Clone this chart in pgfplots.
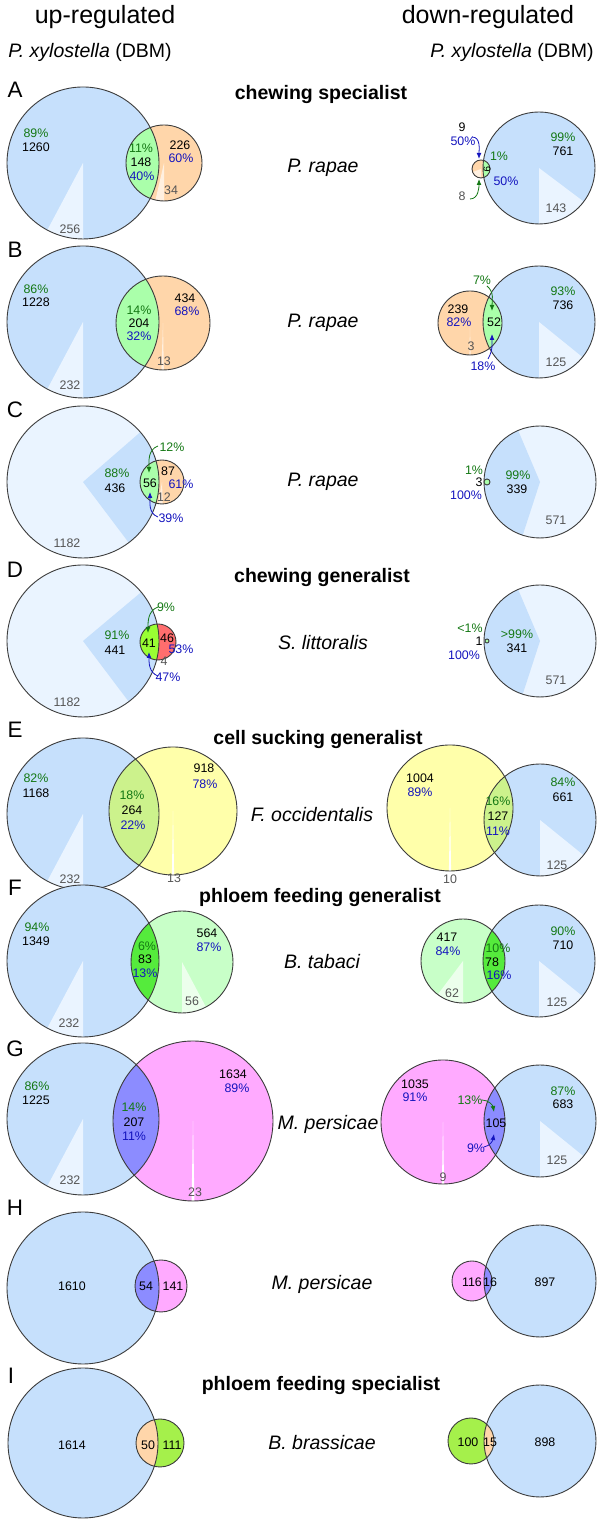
\documentclass[border=0pt]{standalone}
\usepackage{pgfplots}
\pgfplotsset{compat=1.18}
\usetikzlibrary{arrows.meta}
\usepackage{fontspec}
\setmainfont{Liberation Sans}
\definecolor{cblue}{RGB}{198,224,252}
\definecolor{cbluel}{RGB}{234,244,255}
\definecolor{corange}{RGB}{255,214,170}
\definecolor{corangel}{RGB}{255,240,224}
\definecolor{clens}{RGB}{170,255,170}
\definecolor{clime}{RGB}{153,255,51}
\definecolor{cred}{RGB}{255,110,110}
\definecolor{credl}{RGB}{255,200,200}
\definecolor{cyellow}{RGB}{255,255,170}
\definecolor{celens}{RGB}{204,242,140}
\definecolor{cgreenc}{RGB}{200,255,200}
\definecolor{cgreencl}{RGB}{236,255,236}
\definecolor{cflens}{RGB}{85,235,60}
\definecolor{cpink}{RGB}{255,170,255}
\definecolor{cglens}{RGB}{140,140,255}
\definecolor{cilime}{RGB}{165,240,75}
\definecolor{tgreen}{RGB}{20,120,20}
\definecolor{tblue}{RGB}{20,20,190}
\definecolor{tgray}{RGB}{85,85,85}
\definecolor{cline}{RGB}{60,60,60}
\newcommand{\nf}{\fontsize{6.2}{7}\selectfont}
\newcommand{\hf}{\fontsize{9.75}{11}\selectfont}
\newcommand{\vdisk}[4]{\fill[#4] (axis cs:#1,-#2) circle[radius={#3*0.5pt}];}
\newcommand{\vring}[3]{\draw[cline,line width=0.45pt] (axis cs:#1,-#2) circle[radius={#3*0.5pt}];}
\newcommand{\vsec}[6]{\begin{scope}
 \clip (axis cs:#1,-#2) circle[radius={#3*0.5pt}];
 \fill[#6] (axis cs:#1,-#2) -- +({#4}:{#3*1pt}) -- +({#4+(#5-#4)/4}:{#3*1pt}) -- +({#4+(#5-#4)/2}:{#3*1pt}) -- +({#4+3*(#5-#4)/4}:{#3*1pt}) -- +({#5}:{#3*1pt}) -- cycle;
 \end{scope}}
\newcommand{\vlens}[7]{\begin{scope}
 \clip (axis cs:#1,-#2) circle[radius={#3*0.5pt}];
 \fill[#7] (axis cs:#4,-#5) circle[radius={#6*0.5pt}];
 \end{scope}}
\newcommand{\vlab}[4]{\node[font=\nf,text=#4,inner sep=0pt] at (axis cs:#1,-#2) {#3};}
\newcommand{\vtxt}[4]{\node[font=#4,inner sep=0pt] at (axis cs:#1,-#2) {#3};}
\newcommand{\varr}[6]{\draw[#1,line width=0.4pt,-{Latex[length=3pt,width=2.4pt]}] (axis cs:#2,-#3) to[#6] (axis cs:#4,-#5);}
\begin{document}
\begin{tikzpicture}
\begin{axis}[hide axis, x=0.5pt, y=0.5pt, xmin=0, xmax=600, ymin=-1519, ymax=0, clip=false]
% ================= A left
\vdisk{83}{163}{76}{cblue} \vsec{83}{163}{76}{-118}{-90}{cbluel}
\vdisk{164}{163}{38}{corange} \vsec{164}{163}{38}{-103}{-90}{corangel}
\vlens{83}{163}{76}{164}{163}{38}{clens}
\vring{83}{163}{76} \vring{164}{163}{38}
\vlab{36}{133}{89\%}{tgreen} \vlab{36}{147}{1260}{black}
\vlab{141}{148}{11\%}{tgreen} \vlab{141}{162}{148}{black} \vlab{142}{176}{40\%}{tblue}
\vlab{180}{145}{226}{black} \vlab{181}{158}{60\%}{tblue}
\vlab{171}{190}{34}{tgray} \vlab{70}{229}{256}{tgray}
% A right
\vdisk{539}{168}{56}{cblue} \vsec{539}{168}{56}{-90}{-37}{cbluel}
\vdisk{481}{169}{9}{corange} \vsec{481}{169}{9}{-160}{-90}{corangel}
\vlens{539}{168}{56}{481}{169}{9}{clens}
\vring{539}{168}{56} \vring{481}{169}{9}
\vlab{462}{127}{9}{black} \vlab{463}{141}{50\%}{tblue}
\vlab{499}{156}{1\%}{tgreen}
\node[font=\fontsize{5}{6}\selectfont,inner sep=0pt,rotate=-90] at (axis cs:487,-169) {9};
\vlab{506}{181}{50\%}{tblue} \vlab{462}{196}{8}{tgray}
\vlab{563}{137}{99\%}{tgreen} \vlab{563}{151}{761}{black} \vlab{556}{208}{143}{tgray}
\varr{tblue}{472}{137}{479}{159}{out=0,in=90}
\varr{tgreen}{470}{199}{479}{179}{out=0,in=-90}
% ================= B left
\vdisk{83}{322}{76}{cblue} \vsec{83}{322}{76}{-118}{-90}{cbluel}
\vdisk{163}{323}{47}{corange} \vsec{163}{323}{47}{-92}{-89}{corangel}
\vlens{83}{322}{76}{163}{323}{47}{clens}
\vring{83}{322}{76} \vring{163}{323}{47}
\vlab{36}{289}{86\%}{tgreen} \vlab{36}{302}{1228}{black}
\vlab{139}{310}{14\%}{tgreen} \vlab{139}{323}{204}{black} \vlab{139}{336}{32\%}{tblue}
\vlab{185}{298}{434}{black} \vlab{187}{311}{68\%}{tblue}
\vlab{164}{361}{13}{tgray} \vlab{70}{385}{232}{tgray}
% B right
\vdisk{539}{322}{56}{cblue} \vsec{539}{322}{56}{-90}{-39}{cbluel}
\vdisk{470}{323}{32}{corange} \vsec{470}{323}{32}{-91}{-89}{corangel}
\vlens{539}{322}{56}{470}{323}{32}{clens}
\vring{539}{322}{56} \vring{470}{323}{32}
\vlab{482}{280}{7\%}{tgreen} \vlab{458}{309}{239}{black} \vlab{459}{322}{82\%}{tblue}
\vlab{494}{322}{52}{black} \vlab{471}{346}{3}{tgray} \vlab{483}{366}{18\%}{tblue}
\vlab{563}{291}{93\%}{tgreen} \vlab{563}{305}{736}{black} \vlab{556}{362}{125}{tgray}
\varr{tgreen}{487}{286}{492}{311}{out=-40,in=90}
\varr{tblue}{488}{359}{492}{334}{out=60,in=-90}
% ================= C left
\vdisk{83}{482}{76}{cbluel} \vsec{83}{482}{76}{-53}{41}{cblue}
\vdisk{162}{482}{22}{corange} \vsec{162}{482}{22}{-100}{-88}{corangel}
\vlens{83}{482}{76}{162}{482}{22}{clens}
\vring{83}{482}{76} \vring{162}{482}{22}
\vlab{172}{447}{12\%}{tgreen} \vlab{117}{473}{88\%}{tgreen} \vlab{115}{488}{436}{black}
\vlab{150}{483}{56}{black} \vlab{168}{471}{87}{black} \vlab{181}{484}{61\%}{tblue}
\vlab{164}{497}{12}{tgray} \vlab{171}{518}{39\%}{tblue} \vlab{67}{543}{1182}{tgray}
\varr{tgreen}{158}{446}{149}{473}{out=200,in=90}
\varr{tblue}{158}{517}{150}{492}{out=160,in=-90}
% C right
\vdisk{540}{482}{56}{cbluel} \vsec{540}{482}{56}{113}{252}{cblue}
\vring{540}{482}{56}
\vdisk{487}{482}{3}{clens} \vring{487}{482}{3}
\vlab{474}{470}{1\%}{tgreen} \vlab{479}{482}{3}{black} \vlab{466}{495}{100\%}{tblue}
\vlab{518}{475}{99\%}{tgreen} \vlab{517}{489}{339}{black} \vlab{556}{520}{571}{tgray}
% ================= D left
\vdisk{83}{641}{76}{cbluel} \vsec{83}{641}{76}{-53}{40}{cblue}
\vdisk{158}{642}{18}{cred} \vsec{158}{642}{18}{-112}{-95}{credl}
\vlens{83}{641}{76}{158}{642}{18}{clime}
\vring{83}{641}{76} \vring{158}{642}{18}
\vlab{166}{607}{9\%}{tgreen} \vlab{117}{635}{91\%}{tgreen} \vlab{115}{650}{441}{black}
\vlab{149}{643}{41}{black} \vlab{167}{638}{46}{black} \vlab{181}{649}{53\%}{tblue}
\vlab{164}{661}{4}{tgray} \vlab{168}{677}{47\%}{tblue} \vlab{67}{702}{1182}{tgray}
\varr{tgreen}{158}{607}{148}{633}{out=200,in=90}
\varr{tblue}{158}{676}{149}{652}{out=160,in=-90}
% D right
\vdisk{540}{641}{56}{cbluel} \vsec{540}{641}{56}{113}{252}{cblue}
\vring{540}{641}{56}
\vdisk{487}{641}{2}{clens} \vring{487}{641}{2}
\vlab{470}{628}{<1\%}{tgreen} \vlab{479}{641}{1}{black} \vlab{464}{655}{100\%}{tblue}
\vlab{517}{634}{>99\%}{tgreen} \vlab{517}{648}{341}{black} \vlab{556}{680}{571}{tgray}
% ================= E left
\vdisk{83}{814}{76}{cblue} \vsec{83}{814}{76}{-118}{-90}{cbluel}
\vdisk{173}{811}{64}{cyellow} \vsec{173}{811}{64}{-91}{-89}{white}
\vlens{83}{814}{76}{173}{811}{64}{celens}
\vring{83}{814}{76} \vring{173}{811}{64}
\vlab{36}{778}{82\%}{tgreen} \vlab{36}{793}{1168}{black}
\vlab{132}{795}{18\%}{tgreen} \vlab{132}{810}{264}{black} \vlab{133}{825}{22\%}{tblue}
\vlab{204}{768}{918}{black} \vlab{205}{784}{78\%}{tblue}
\vlab{174}{878}{13}{tgray} \vlab{70}{879}{232}{tgray}
% E right
\vdisk{540}{820}{56}{cblue} \vsec{540}{820}{56}{-90}{-39}{cbluel}
\vdisk{450}{808}{63}{cyellow} \vsec{450}{808}{63}{-91}{-89}{white}
\vlens{540}{820}{56}{450}{808}{63}{celens}
\vring{540}{820}{56} \vring{450}{808}{63}
\vlab{420}{778}{1004}{black} \vlab{420}{792}{89\%}{tblue} \vlab{450}{879}{10}{tgray}
\vlab{498}{801}{16\%}{tgreen} \vlab{498}{816}{127}{black} \vlab{498}{831}{11\%}{tblue}
\vlab{563}{782}{84\%}{tgreen} \vlab{563}{797}{661}{black} \vlab{557}{865}{125}{tgray}
% ================= F left
\vdisk{83}{961}{76}{cblue} \vsec{83}{961}{76}{-118}{-90}{cbluel}
\vdisk{182}{962}{51}{cgreenc} \vsec{182}{962}{51}{-90}{-62}{cgreencl}
\vlens{83}{961}{76}{182}{962}{51}{cflens}
\vring{83}{961}{76} \vring{182}{962}{51}
\vlab{37}{927}{94\%}{tgreen} \vlab{36}{941}{1349}{black}
\vlab{147}{946}{6\%}{tgreen} \vlab{145}{959}{83}{black} \vlab{145}{973}{13\%}{tblue}
\vlab{207}{933}{564}{black} \vlab{209}{947}{87\%}{tblue}
\vlab{192}{1001}{56}{tgray} \vlab{69}{1023}{232}{tgray}
% F right
\vdisk{539}{961}{56}{cblue} \vsec{539}{961}{56}{-90}{-39}{cbluel}
\vdisk{463}{961}{42}{cgreenc} \vsec{463}{961}{42}{-127}{-90}{cgreencl}
\vlens{539}{961}{56}{463}{961}{42}{cflens}
\vring{539}{961}{56} \vring{463}{961}{42}
\vlab{447}{937}{417}{black} \vlab{448}{951}{84\%}{tblue} \vlab{452}{993}{62}{tgray}
\vlab{498}{948}{10\%}{tgreen} \vlab{492}{962}{78}{black} \vlab{499}{975}{16\%}{tblue}
\vlab{563}{931}{90\%}{tgreen} \vlab{563}{945}{710}{black} \vlab{557}{1002}{125}{tgray}
% ================= G left
\vdisk{83}{1119}{76}{cblue} \vsec{83}{1119}{76}{-118}{-90}{cbluel}
\vdisk{193}{1121}{80}{cpink} \vsec{193}{1121}{80}{-91}{-89}{white}
\vlens{83}{1119}{76}{193}{1121}{80}{cglens}
\vring{83}{1119}{76} \vring{193}{1121}{80}
\vlab{37}{1086}{86\%}{tgreen} \vlab{36}{1100}{1225}{black}
\vlab{134}{1107}{14\%}{tgreen} \vlab{134}{1122}{207}{black} \vlab{134}{1136}{11\%}{tblue}
\vlab{233}{1074}{1634}{black} \vlab{237}{1088}{89\%}{tblue}
\vlab{195}{1192}{23}{tgray} \vlab{70}{1180}{232}{tgray}
% G right
\vdisk{540}{1121}{56}{cblue} \vsec{540}{1121}{56}{-90}{-39}{cbluel}
\vdisk{443}{1122}{62}{cpink} \vsec{443}{1122}{62}{-91}{-89}{white}
\vlens{540}{1121}{56}{443}{1122}{62}{cglens}
\vring{540}{1121}{56} \vring{443}{1122}{62}
\vlab{415}{1084}{1035}{black} \vlab{415}{1097}{91\%}{tblue}
\vlab{470}{1100}{13\%}{tgreen} \vlab{496}{1123}{105}{black} \vlab{476}{1148}{9\%}{tblue}
\vlab{443}{1177}{9}{tgray}
\vlab{563}{1091}{87\%}{tgreen} \vlab{563}{1104}{683}{black} \vlab{557}{1160}{125}{tgray}
\varr{tgreen}{482}{1100}{494}{1112}{out=0,in=100}
\varr{tblue}{484}{1147}{494}{1134}{out=10,in=-100}
% ================= H left
\vdisk{83}{1288}{76}{cblue}
\vdisk{161}{1286}{26}{cpink}
\vlens{83}{1288}{76}{161}{1286}{26}{cglens}
\vring{83}{1288}{76} \vring{161}{1286}{26}
\vlab{72}{1286}{1610}{black} \vlab{146}{1286}{54}{black} \vlab{173}{1286}{141}{black}
% H right
\vdisk{540}{1281}{56}{cblue}
\vdisk{472}{1281}{20}{cpink}
\vlens{540}{1281}{56}{472}{1281}{20}{cglens}
\vring{540}{1281}{56} \vring{472}{1281}{20}
\vlab{472}{1282}{116}{black} \vlab{490}{1282}{16}{black} \vlab{545}{1282}{897}{black}
% ================= I left
\vdisk{83}{1443}{75}{cblue}
\vdisk{160}{1443}{24}{cilime}
\vlens{83}{1443}{75}{160}{1443}{24}{corange}
\vring{83}{1443}{75} \vring{160}{1443}{24}
\vlab{72}{1445}{1614}{black} \vlab{148}{1445}{50}{black} \vlab{172}{1445}{111}{black}
% I right
\vdisk{540}{1441}{56}{cblue}
\vdisk{471}{1441}{23}{cilime}
\vlens{540}{1441}{56}{471}{1441}{23}{corange}
\vring{540}{1441}{56} \vring{471}{1441}{23}
\vlab{468}{1442}{100}{black} \vlab{490}{1442}{15}{black} \vlab{545}{1442}{898}{black}
% titles
\vtxt{105}{17}{up-regulated}{\fontsize{12.5}{14}\selectfont}
\vtxt{488}{17}{down-regulated}{\fontsize{12.5}{14}\selectfont}
\vtxt{90}{52}{\textit{P. xylostella} (DBM)}{\hf}
\vtxt{512}{52}{\textit{P. xylostella} (DBM)}{\hf}
% panel letters
\vtxt{15}{90}{A}{\fontsize{11.2}{13}\selectfont}
\vtxt{15}{250}{B}{\fontsize{11.2}{13}\selectfont}
\vtxt{15}{410}{C}{\fontsize{11.2}{13}\selectfont}
\vtxt{15}{570}{D}{\fontsize{11.2}{13}\selectfont}
\vtxt{15}{730}{E}{\fontsize{11.2}{13}\selectfont}
\vtxt{15}{888}{F}{\fontsize{11.2}{13}\selectfont}
\vtxt{15}{1049}{G}{\fontsize{11.2}{13}\selectfont}
\vtxt{15}{1208}{H}{\fontsize{11.2}{13}\selectfont}
\vtxt{11}{1376}{I}{\fontsize{11.2}{13}\selectfont}
% headings
\vtxt{321}{95}{chewing specialist}{\hf\bfseries}
\vtxt{322}{578}{chewing generalist}{\hf\bfseries}
\vtxt{318}{740}{cell sucking generalist}{\hf\bfseries}
\vtxt{320}{898}{phloem feeding generalist}{\hf\bfseries}
\vtxt{321}{1386}{phloem feeding specialist}{\hf\bfseries}
% species
\vtxt{323}{168}{P. rapae}{\hf\itshape}
\vtxt{323}{323}{P. rapae}{\hf\itshape}
\vtxt{323}{482}{P. rapae}{\hf\itshape}
\vtxt{323}{643}{S. littoralis}{\hf\itshape}
\vtxt{312}{815}{F. occidentalis}{\hf\itshape}
\vtxt{322}{962}{B. tabaci}{\hf\itshape}
\vtxt{328}{1124}{M. persicae}{\hf\itshape}
\vtxt{322}{1284}{M. persicae}{\hf\itshape}
\vtxt{322}{1443}{B. brassicae}{\hf\itshape}
\end{axis}
\pgfresetboundingbox
\path[use as bounding box] (0,0) rectangle (300pt,759.5pt);
\end{tikzpicture}
\end{document}
